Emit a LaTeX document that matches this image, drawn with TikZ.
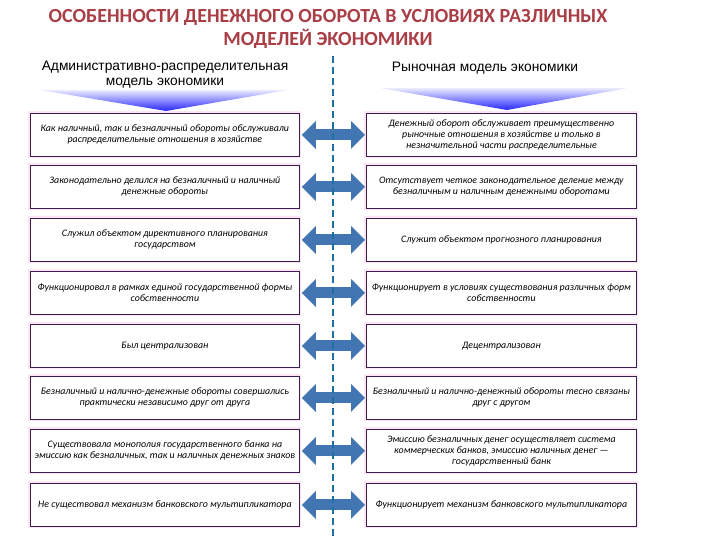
\documentclass[tikz,border=0pt]{standalone}
\usepackage{fontspec}
\setmainfont{Carlito}
\newfontfamily\hdrfont{Liberation Sans}
\usepackage{tikz}
\usetikzlibrary{arrows.meta,calc}
\usepackage{xcolor}
\definecolor{titlered}{RGB}{170,62,70}
\definecolor{boxline}{RGB}{60,28,78}
\definecolor{arrblue}{RGB}{66,118,178}
\definecolor{dashblue}{RGB}{30,110,160}

\begin{document}
\begin{tikzpicture}[x=1pt,y=-1pt,
  cell/.style={draw=boxline,line width=0.8pt,fill=white,anchor=north west,
    minimum height=43pt,align=center,inner sep=1pt,
    font=\fontsize{9.9}{11}\selectfont\itshape,
    preaction={draw=magenta!10,line width=4pt}},
  lcell/.style={cell,minimum width=269pt},
  rcell/.style={cell,minimum width=270pt},
  both/.style={arrblue,line width=11pt,shorten <=2pt,shorten >=1pt,
    {Triangle[length=14pt,width=27pt]}-{Triangle[length=14pt,width=27pt]}},
  hdr/.style={font=\hdrfont\fontsize{13.8}{15}\selectfont,align=center}]
  \useasboundingbox[fill=white] (0,0) rectangle (720,540);
  % title
  \node[font=\bfseries\fontsize{20}{23}\selectfont,text=titlered,align=center] (title) at (328,29)
    {ОСОБЕННОСТИ ДЕНЕЖНОГО ОБОРОТА В УСЛОВИЯХ РАЗЛИЧНЫХ\\ МОДЕЛЕЙ ЭКОНОМИКИ};
  % headers
  \shade[top color=blue!8,bottom color=blue!85] (40,90) -- (288,90) -- (166,111) -- cycle;
  \shade[top color=blue!8,bottom color=blue!85] (380,88) -- (628,88) -- (507,110) -- cycle;
  \node[hdr] (admin) at (165,75){Административно-распределительная\\ модель экономики};
  \node[hdr] (market) at (485,68){Рыночная модель экономики};
  % left column
  \node[lcell] (l1) at (30,113){Как наличный, так и безналичный обороты обслуживали\\ распределительные отношения в хозяйстве};
  \node[lcell] (l2) at (30,165){Законодательно делился на безналичный и наличный\\ денежные обороты};
  \node[lcell] (l3) at (30,218){Служил объектом директивного планирования\\ государством};
  \node[lcell] (l4) at (30,271){Функционировал в рамках единой государственной формы\\ собственности};
  \node[lcell] (l5) at (30,324){Был централизован};
  \node[lcell] (l6) at (30,376){Безналичный и налично-денежные обороты совершались\\ практически независимо друг от друга};
  \node[lcell] (l7) at (30,429){Существовала монополия государственного банка на\\ эмиссию как безналичных, так и наличных денежных знаков};
  \node[lcell] (l8) at (30,483){Не существовал механизм банковского мультипликатора};
  % right column
  \node[rcell] (r1) at (366,113){Денежный оборот обслуживает преимущественно\\ рыночные отношения в хозяйстве и только в\\ незначительной части распределительные};
  \node[rcell] (r2) at (366,165){Отсутствует четкое законодательное деление между\\ безналичным и наличным денежными оборотами};
  \node[rcell] (r3) at (366,218){Служит объектом прогнозного планирования};
  \node[rcell] (r4) at (366,271){Функционирует в условиях существования различных форм\\ собственности};
  \node[rcell] (r5) at (366,324){Децентрализован};
  \node[rcell] (r6) at (366,376){Безналичный и налично-денежный обороты тесно связаны\\ друг с другом};
  \node[rcell] (r7) at (366,429){Эмиссию безналичных денег осуществляет система\\ коммерческих банков, эмиссию наличных денег —\\ государственный банк};
  \node[rcell] (r8) at (366,483){Функционирует механизм банковского мультипликатора};
  % arrows
  \foreach \i in {1,...,8}
    \draw[both] (l\i.east) -- (r\i.west);
  \draw[dashblue,line width=2.6pt,dash pattern=on 7pt off 4pt] (333,56) -- (333,536);
\end{tikzpicture}
\end{document}
